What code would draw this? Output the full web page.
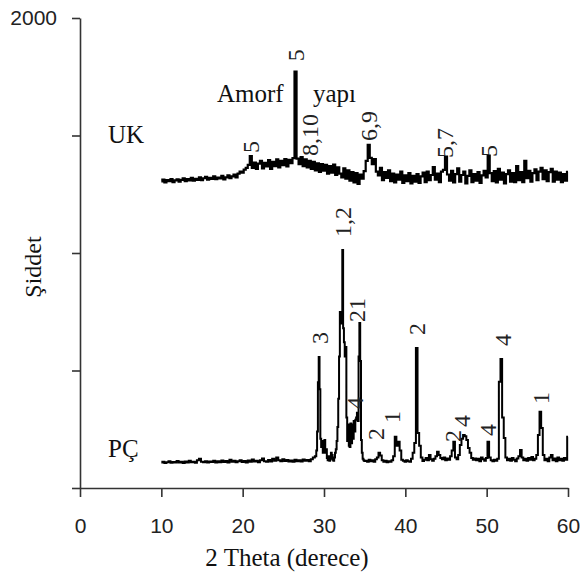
<!DOCTYPE html>
<html>
<head>
<meta charset="utf-8">
<script src="https://cdn.jsdelivr.net/npm/d3@7"></script>
<style>
  body { margin: 0; background: #fff; }
  svg { display: block; }
</style>
</head>
<body>
<div id="chart"></div>
<script>
// UK pattern, 2 theta 10..60 every 0.25
const ukStart = 10;
const ukStep = 0.25;
const ukCounts = [
  1305, 1312, 1300, 1310, 1306, 1315, 1302, 1309, 1313, 1304, 1311, 1318, 1306, 1314, 1309, 1320,
  1308, 1316, 1311, 1322, 1310, 1318, 1324, 1312, 1320, 1315, 1326, 1314, 1321, 1317, 1328, 1313,
  1322, 1330, 1318, 1326, 1334, 1322, 1338, 1346, 1342, 1355, 1362, 1375, 1412, 1362, 1385, 1358,
  1380, 1392, 1360, 1384, 1368, 1395, 1358, 1388, 1370, 1398, 1364, 1392, 1374, 1400, 1368, 1396,
  1382, 1404, 1772, 1402, 1378, 1408, 1370, 1398, 1364, 1392, 1358, 1388, 1352, 1382, 1345, 1378,
  1350, 1375, 1338, 1370, 1342, 1376, 1332, 1364, 1338, 1322, 1360, 1316, 1352, 1308, 1344, 1300,
  1340, 1294, 1334, 1316, 1348, 1392, 1460, 1405, 1378, 1400, 1346, 1330, 1362, 1310, 1344, 1320,
  1352, 1306, 1338, 1300, 1334, 1312, 1346, 1298, 1330, 1306, 1340, 1296, 1328, 1304, 1336, 1298,
  1326, 1342, 1302, 1346, 1310, 1332, 1366, 1312, 1338, 1302, 1346, 1354, 1410, 1334, 1308, 1350,
  1300, 1336, 1360, 1304, 1332, 1346, 1296, 1328, 1352, 1302, 1336, 1308, 1344, 1298, 1330, 1350,
  1322, 1414, 1340, 1306, 1348, 1300, 1358, 1312, 1342, 1296, 1336, 1352, 1304, 1340, 1302, 1370,
  1310, 1344, 1302, 1392, 1318, 1350, 1304, 1340, 1356, 1310, 1346, 1362, 1314, 1352, 1306, 1344,
  1358, 1304, 1346, 1312, 1342, 1302, 1336, 1308, 1345
];

// PÇ pattern
const pcTheta = [
  10, 10.25, 10.5, 10.75, 11, 11.25, 11.5, 11.75, 12, 12.25, 12.5, 12.75, 13, 13.25, 13.5, 13.75,
  14, 14.25, 14.5, 14.75, 15, 15.25, 15.5, 15.75, 16, 16.25, 16.5, 16.75, 17, 17.25, 17.5, 17.75,
  18, 18.25, 18.5, 18.75, 19, 19.25, 19.5, 19.75, 20, 20.25, 20.5, 20.75, 21, 21.25, 21.5, 21.75,
  22, 22.25, 22.5, 22.75, 23, 23.25, 23.5, 23.75, 24, 24.25, 24.5, 24.75, 25, 25.25, 25.5, 25.75,
  26, 26.25, 26.5, 26.75, 27, 27.25, 27.5, 27.75, 28, 28.25, 28.5, 28.75,
  29, 29.1, 29.2, 29.3, 29.4, 29.5, 29.6, 29.7, 29.8, 29.9, 30, 30.1, 30.2, 30.3, 30.4, 30.5,
  30.6, 30.7, 30.8, 30.9, 31, 31.1, 31.2, 31.3, 31.4, 31.5, 31.6, 31.7, 31.8, 31.9, 32, 32.1,
  32.2, 32.3, 32.4, 32.5, 32.6, 32.7, 32.8, 32.9, 33, 33.1, 33.2, 33.3, 33.4, 33.5, 33.6, 33.7,
  33.8, 33.9, 34, 34.1, 34.2, 34.3, 34.4, 34.5, 34.6, 34.7, 34.8, 34.9, 35,
  35.2, 35.4, 35.6, 35.8, 36, 36.2, 36.4, 36.6, 36.8, 37, 37.2, 37.4, 37.6, 37.8, 38, 38.2,
  38.4, 38.6, 38.8, 39, 39.2, 39.4, 39.6, 39.8, 40, 40.2, 40.4, 40.6, 40.8, 41, 41.2, 41.4,
  41.6, 41.8, 42, 42.2, 42.4, 42.6, 42.8, 43, 43.2, 43.4, 43.6, 43.8, 44, 44.2, 44.4, 44.6,
  44.8, 45, 45.2, 45.4, 45.6, 45.8, 46, 46.2, 46.4, 46.6, 46.8, 47, 47.2, 47.4, 47.6, 47.8,
  48, 48.2, 48.4, 48.6, 48.8, 49, 49.2, 49.4, 49.6, 49.8, 50, 50.2, 50.4, 50.6, 50.8, 51,
  51.2, 51.4, 51.6, 51.8, 52, 52.2, 52.4, 52.6, 52.8, 53, 53.2, 53.4, 53.6, 53.8, 54, 54.2,
  54.4, 54.6, 54.8, 55, 55.2, 55.4, 55.6, 55.8, 56, 56.2, 56.4, 56.6, 56.8, 57, 57.2, 57.4,
  57.6, 57.8, 58, 58.2, 58.4, 58.6, 58.8, 59, 59.2, 59.4, 59.6, 59.8, 60
];
const pcCounts = [
  108, 112, 106, 110, 114, 107, 111, 109, 115, 108, 112, 106, 113, 109, 116, 110,
  112, 107, 118, 124, 112, 110, 114, 108, 113, 111, 116, 109, 114, 110, 117, 111,
  115, 109, 120, 112, 116, 110, 114, 118, 111, 115, 109, 117, 112, 121, 113, 116,
  110, 118, 126, 114, 112, 119, 113, 125, 116, 130, 118, 114, 122, 115, 119, 113,
  117, 112, 120, 114, 118, 113, 121, 116, 119, 114, 122, 130,
  135, 160, 240, 450, 557, 420, 210, 175, 200, 150, 190, 204, 150, 165, 128, 118,
  135, 116, 124, 150, 140, 120, 116, 130, 150, 165, 200, 260, 380, 560, 749, 700,
  720, 1013, 680, 620, 560, 600, 300, 200, 270, 180, 175, 275, 190, 270, 210, 285,
  240, 290, 300, 320, 285, 560, 702, 540, 204, 150, 125, 118, 115,
  116, 112, 120, 114, 118, 112, 122, 130, 150, 138, 118, 112, 116, 110, 114, 112,
  118, 135, 218, 180, 197, 160, 120, 116, 112, 118, 114, 112, 125, 150, 191, 596,
  234, 180, 130, 115, 120, 128, 118, 140, 122, 116, 125, 135, 154, 140, 128, 122,
  130, 118, 126, 120, 135, 160, 197, 130, 122, 140, 183, 210, 226, 220, 204, 170,
  150, 128, 120, 126, 118, 124, 114, 130, 122, 116, 128, 197, 130, 118, 114, 120,
  116, 124, 452, 549, 300, 213, 130, 118, 124, 116, 128, 120, 114, 126, 135, 162,
  130, 118, 124, 116, 128, 120, 132, 118, 125, 140, 226, 325, 255, 140, 118, 124,
  114, 130, 140, 118, 126, 114, 130, 118, 124, 116, 128, 120, 218
];

// peak labels (phase numbers)
const ukLabelText = ["5", "5", "8,10", "6,9", "5,7", "5"];
const ukLabelTheta = [21.0, 26.6, 28.3, 35.5, 44.9, 50.3];
const ukLabelCounts = [1451, 1842, 1502, 1540, 1468, 1434];

const pcLabelText = ["3", "1,2", "21", "4", "2", "1", "2", "2", "4", "4", "4", "1"];
const pcLabelTheta = [29.5, 32.3, 34.1, 33.8, 36.4, 38.4, 41.4, 45.9, 47.0, 50.2, 52.0, 56.7];
const pcLabelCounts = [638, 1132, 757, 362, 230, 302, 677, 221, 285, 247, 630, 383];

const xTicks = [0, 10, 20, 30, 40, 50, 60];
const yTicks = [0, 500, 1000, 1500, 2000];

const width = 581;
const height = 580;
const margin = { top: 18, right: 12, bottom: 92, left: 80 };

const serif = "'Liberation Serif', 'Times New Roman', serif";
const sans = "'Liberation Sans', Arial, sans-serif";

const svg = d3
  .select("#chart")
  .append("svg")
  .attr("width", width)
  .attr("height", height);

const xScale = d3
  .scaleLinear()
  .domain([0, 60])
  .range([margin.left, width - margin.right - 1]);

const yScale = d3
  .scaleLinear()
  .domain([0, 2000])
  .range([height - margin.bottom, margin.top]);

const ukData = ukCounts.map((c, i) => ({ t: ukStart + i * ukStep, c: c }));
const pcData = pcTheta.map((t, i) => ({ t: t, c: pcCounts[i] }));

const line = d3
  .line()
  .curve(d3.curveStep)
  .x((d) => xScale(d.t))
  .y((d) => yScale(d.c));

// axes
const xAxis = d3
  .axisBottom(xScale)
  .tickValues(xTicks)
  .tickSize(9)
  .tickSizeOuter(0)
  .tickPadding(21)
  .tickFormat(d3.format("d"));

const yAxis = d3
  .axisLeft(yScale)
  .tickValues(yTicks)
  .tickSize(8)
  .tickSizeOuter(0)
  .tickPadding(15)
  .tickFormat((d) => (d === 2000 ? "2000" : ""));

const gx = svg
  .append("g")
  .attr("transform", `translate(0, ${height - margin.bottom})`)
  .call(xAxis);

const gy = svg
  .append("g")
  .attr("transform", `translate(${margin.left}, 0)`)
  .call(yAxis);

[gx, gy].forEach((g) => {
  g.selectAll("path, line").attr("stroke", "#333").attr("stroke-width", 1.6);
  g.selectAll("text")
    .attr("fill", "#222")
    .style("font-family", sans)
    .style("font-size", "21px");
});

// patterns
svg
  .append("path")
  .datum(ukData)
  .attr("fill", "none")
  .attr("stroke", "#000")
  .attr("stroke-width", 2.2)
  .attr("d", line);

svg
  .append("path")
  .datum(pcData)
  .attr("fill", "none")
  .attr("stroke", "#000")
  .attr("stroke-width", 2)
  .attr("d", line);

// peak labels
function peakLabels(texts, thetas, counts) {
  svg
    .append("g")
    .selectAll("text")
    .data(texts)
    .enter()
    .append("text")
    .attr(
      "transform",
      (d, i) => `translate(${xScale(thetas[i])}, ${yScale(counts[i])}) rotate(-90)`
    )
    .attr("text-anchor", "middle")
    .attr("dominant-baseline", "central")
    .attr("fill", "#222")
    .style("font-family", serif)
    .style("font-size", "24px")
    .text((d) => d);
}
peakLabels(ukLabelText, ukLabelTheta, ukLabelCounts);
peakLabels(pcLabelText, pcLabelTheta, pcLabelCounts);

// sample names and notes
const notes = [
  { text: "UK", x: 108, y: 143 },
  { text: "PÇ", x: 108, y: 457 },
  { text: "Amorf", x: 217, y: 102 },
  { text: "yapı", x: 313, y: 102 },
];
svg
  .selectAll(".note")
  .data(notes)
  .enter()
  .append("text")
  .attr("class", "note")
  .attr("x", (d) => d.x)
  .attr("y", (d) => d.y)
  .attr("fill", "#111")
  .style("font-family", serif)
  .style("font-size", "25px")
  .text((d) => d.text);

// axis titles
svg
  .append("text")
  .attr("x", 287)
  .attr("y", 566)
  .attr("text-anchor", "middle")
  .attr("fill", "#111")
  .style("font-family", serif)
  .style("font-size", "25px")
  .text("2 Theta (derece)");

svg
  .append("text")
  .attr("transform", "translate(33, 267) rotate(-90)")
  .attr("text-anchor", "middle")
  .attr("dominant-baseline", "central")
  .attr("fill", "#111")
  .style("font-family", serif)
  .style("font-size", "24px")
  .text("Şiddet");
</script>
</body>
</html>
